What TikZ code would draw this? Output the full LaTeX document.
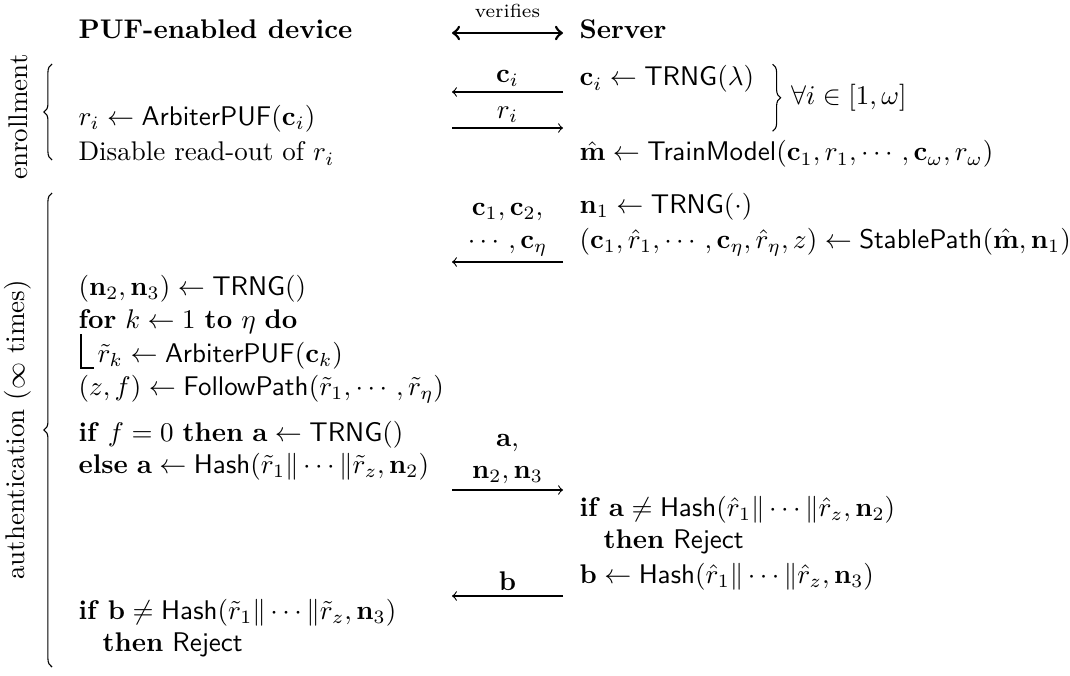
\documentclass[tikz,border=0pt]{standalone}
\usepackage{amsmath, amssymb}
\usepackage{tikz}
\usetikzlibrary{calc, decorations.pathreplacing}
\newcommand{\Alg}[1]{\mathsf{#1}}
\newcommand{\kw}[1]{\textbf{#1}}

\begin{document}
\begin{tikzpicture}[x=0.3704pt, y=-0.3704pt,
	txt/.style={anchor=base west, inner sep=0pt},
	msg/.style={->},
	lbl/.style={above, align=center, inner sep=2pt},
	grp/.style={decorate, decoration={brace, amplitude=3pt}}]
	\useasboundingbox (0,0) rectangle (1070,675);

	% header
	\node [txt] (dev) at (78,39) {\textbf{PUF-enabled device}};
	\node [txt] (srv) at (579,39) {\textbf{Server}};
	\coordinate (vl) at (452,33);
	\coordinate (vr) at (563,33);
	\draw [<->, line width=1pt] (vl) -- node [above, inner sep=5pt] (vlbl) {\scriptsize verifies} (vr);

	% enrollment
	\node [txt] (ci) at (579,86) {$\mathbf{c}_i \leftarrow \Alg{TRNG}(\lambda)$};
	\coordinate (m1d) at (452,92);
	\coordinate (m1s) at (563,92);
	\draw [msg] (m1s) -- node [lbl] (m1lbl) {$\mathbf{c}_i$} (m1d);
	\node [txt] (puf) at (78,125) {$r_i \leftarrow \Alg{ArbiterPUF}(\mathbf{c}_i)$};
	\coordinate (m2d) at (452,128);
	\coordinate (m2s) at (563,128);
	\draw [msg] (m2d) -- node [lbl] (m2lbl) {$r_i$} (m2s);
	\coordinate (fa-t) at ($(ci.east)+(18,-15)$);
	\coordinate (fa-b) at ($(ci.east)+(18,52)$);
	\draw [grp] (fa-t) -- (fa-b);
	\node [anchor=west, inner sep=0pt] (fa) at ($(fa-t)!0.5!(fa-b)+(18,0)$) {$\forall i \in [1, \omega]$};
	\node [txt] (dis) at (78,161) {Disable read-out of $r_i$};
	\node [txt] (train) at (579,161) {$\hat{\mathbf{m}} \leftarrow \Alg{TrainModel}(\mathbf{c}_1, r_1, \cdots, \mathbf{c}_\omega, r_\omega)$};
	\coordinate (enr-t) at (52,64);
	\coordinate (enr-b) at (52,160);
	\draw [grp] (enr-b) -- (enr-t);
	\node [rotate=90] (enr) at (18,117) {enrollment};

	% authentication
	\node [txt] (n1) at (579,213) {$\mathbf{n}_1 \leftarrow \Alg{TRNG}(\cdot)$};
	\node [txt] (sp) at (579,248) {$(\mathbf{c}_1, \hat{r}_1, \cdots, \mathbf{c}_\eta, \hat{r}_\eta, z) \leftarrow \Alg{StablePath}(\hat{\mathbf{m}}, \mathbf{n}_1)$};
	\coordinate (m3d) at (452,262);
	\coordinate (m3s) at (563,262);
	\draw [msg] (m3s) -- node [lbl] (m3lbl) {$\mathbf{c}_1, \mathbf{c}_2,$\\$\cdots, \mathbf{c}_\eta$} (m3d);

	\node [txt] (nn) at (78,295) {$(\mathbf{n}_2, \mathbf{n}_3) \leftarrow \Alg{TRNG}()$};
	\node [txt] (for) at (78,328) {\kw{for} $k \leftarrow 1$ \kw{to} $\eta$ \kw{do}};
	\node [txt] (rk) at (97,362) {$\tilde{r}_k \leftarrow \Alg{ArbiterPUF}(\mathbf{c}_k)$};
	\draw (81,334) -- (81,368) -- (94,368);
	\node [txt] (fp) at (78,395) {$(z, f) \leftarrow \Alg{FollowPath}(\tilde{r}_1, \cdots, \tilde{r}_\eta)$};
	\node [txt] (iff) at (78,441) {\kw{if} $f = 0$ \kw{then} $\mathbf{a} \leftarrow \Alg{TRNG}()$};
	\node [txt] (els) at (78,473) {\kw{else} $\mathbf{a} \leftarrow \Alg{Hash}(\tilde{r}_1 \| \cdots \| \tilde{r}_z, \mathbf{n}_2)$};
	\coordinate (m4d) at (452,490);
	\coordinate (m4s) at (563,490);
	\draw [msg] (m4d) -- node [lbl] (m4lbl) {$\mathbf{a}$,\\$\mathbf{n}_2, \mathbf{n}_3$} (m4s);

	\node [txt] (chka) at (579,516) {\kw{if} $\mathbf{a} \neq \Alg{Hash}(\hat{r}_1 \| \cdots \| \hat{r}_z, \mathbf{n}_2)$};
	\node [txt] (rja) at (603,548) {\kw{then} \textsf{Reject}};
	\node [txt] (hb) at (579,583) {$\mathbf{b} \leftarrow \Alg{Hash}(\hat{r}_1 \| \cdots \| \hat{r}_z, \mathbf{n}_3)$};
	\coordinate (m5d) at (452,596);
	\coordinate (m5s) at (563,596);
	\draw [msg] (m5s) -- node [lbl] (m5lbl) {$\mathbf{b}$} (m5d);

	\node [txt] (chkb) at (78,619) {\kw{if} $\mathbf{b} \neq \Alg{Hash}(\tilde{r}_1 \| \cdots \| \tilde{r}_z, \mathbf{n}_3)$};
	\node [txt] (rjb) at (102,651) {\kw{then} \textsf{Reject}};

	\coordinate (auth-t) at (52,193);
	\coordinate (auth-b) at (52,667);
	\draw [grp] (auth-b) -- (auth-t);
	\node [rotate=90] (auth) at (18,430) {authentication ($\infty$ times)};
\end{tikzpicture}
\end{document}
